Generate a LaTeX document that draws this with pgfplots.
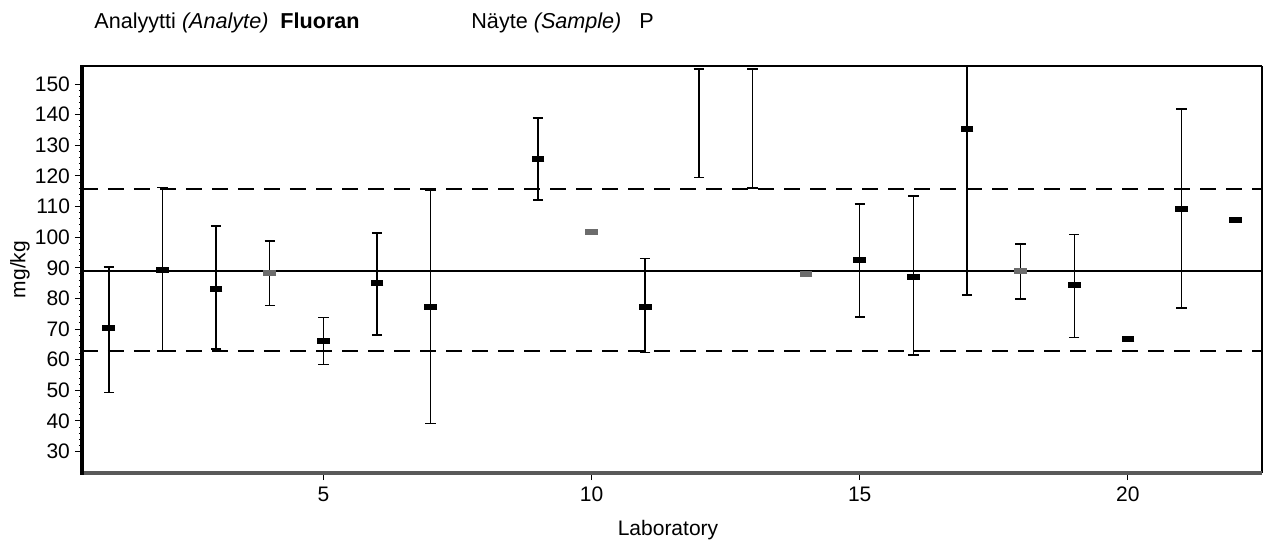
\documentclass[border=0pt]{standalone}
\usepackage{pgfplots}
\pgfplotsset{compat=1.18}
\usepackage{pgfplotstable}
\usepackage{fontspec}
\setmainfont{Liberation Sans}

% error intervals: lab, lower, upper
\pgfplotstableread{
x lo hi
1 49.3 90.3
2 62.9 116.3
3 63.5 103.6
4 77.7 98.7
5 58.5 73.8
6 68.0 101.4
7 39.2 115.4
9 112.1 139.0
11 62.3 93.1
12 119.5 154.9
13 116.1 154.9
15 74.0 110.8
16 61.5 113.4
17 81.1 190.0
18 79.8 97.7
19 67.3 100.9
21 76.8 141.9
}\errtable

\begin{document}
\begin{tikzpicture}
\useasboundingbox (-41pt,-35pt) rectangle (594pt,236.5pt);
\begin{axis}[
  scale only axis,
  width=590pt, height=203.5pt,
  xmin=0.5, xmax=22.5,
  ymin=23, ymax=155.9,
  xtick={5,10,15,20},
  ytick={30,40,...,150},
  minor y tick num=4,
  minor x tick num=0,
  tick align=outside,
  major tick length=3.5pt,
  minor tick length=1.5pt,
  tick style={black, line width=0.5pt},
  xtick pos=bottom, ytick pos=left,
  axis line style={draw=none},
  /pgf/number format/assume math mode=true,
  tick label style={font=\fontsize{10.5pt}{12pt}\selectfont},
  yticklabel style={xshift=1pt},
  clip mode=individual,
]
% reference lines
\addplot[black, line width=0.7pt, forget plot] coordinates {(0.5,89.0) (22.5,89.0)};
\addplot[black, line width=1pt, dash pattern=on 8pt off 5pt, forget plot] coordinates {(0.5,115.6) (22.5,115.6)};
\addplot[black, line width=1pt, dash pattern=on 8pt off 5pt, forget plot] coordinates {(0.5,62.8) (22.5,62.8)};

% error bars
\addplot[draw=none, mark=none, forget plot,
  error bars/.cd, y dir=both, y explicit, error mark=|,
  error bar style={draw=black, line width=0.75pt},
  error mark options={draw=black, line width=0.75pt, mark size=2.6pt}]
  table[x=x, y expr=(\thisrow{lo}+\thisrow{hi})/2, y error expr=(\thisrow{hi}-\thisrow{lo})/2] {\errtable};

% results (black)
\addplot[only marks, mark=-, mark size=3.2pt, mark options={black, line width=3pt}, forget plot]
coordinates {(1,70.2) (2,89.3) (3,83.2) (5,66.2) (6,85.1) (7,77.1) (9,125.4) (11,77.3)
 (15,92.4) (16,87.1) (17,135.3) (19,84.3) (20,66.7) (21,109.1) (22,105.7)};
% results (grey)
\addplot[only marks, mark=-, mark size=3.2pt, mark options={gray!85!black, line width=3pt}, forget plot]
coordinates {(4,88.2) (10,101.7) (14,88.1) (18,88.9)};

% frame
\draw[black, line width=0.8pt] (rel axis cs:0,1) -- (rel axis cs:1,1);
\draw[black, line width=1pt] (rel axis cs:1,0) -- (rel axis cs:1,1);
\draw[gray!70!black, line width=2pt] (rel axis cs:0,0) -- (rel axis cs:1,0);
\draw[black, line width=1.6pt] (rel axis cs:0,-0.004) -- (rel axis cs:0,1.002);

% texts
\node[anchor=base west, font=\fontsize{10.8pt}{12pt}\selectfont, inner sep=0pt]
  at ([xshift=6pt, yshift=19pt]rel axis cs:0,1) {Analyytti \textit{(Analyte)}\ \ \textbf{Fluoran}};
\node[anchor=base west, font=\fontsize{10.8pt}{12pt}\selectfont, inner sep=0pt]
  at ([xshift=194.5pt, yshift=19pt]rel axis cs:0,1) {Näyte \textit{(Sample)}\ \ \ P};
\node[rotate=90, anchor=center, font=\fontsize{10.5pt}{12pt}\selectfont, inner sep=0pt]
  at ([xshift=-31pt]rel axis cs:0,0.5) {mg/kg};
\node[anchor=base, font=\fontsize{10.5pt}{12pt}\selectfont, inner sep=0pt]
  at ([xshift=-2pt, yshift=-31pt]rel axis cs:0.5,0) {Laboratory};
\end{axis}
\end{tikzpicture}
\end{document}
